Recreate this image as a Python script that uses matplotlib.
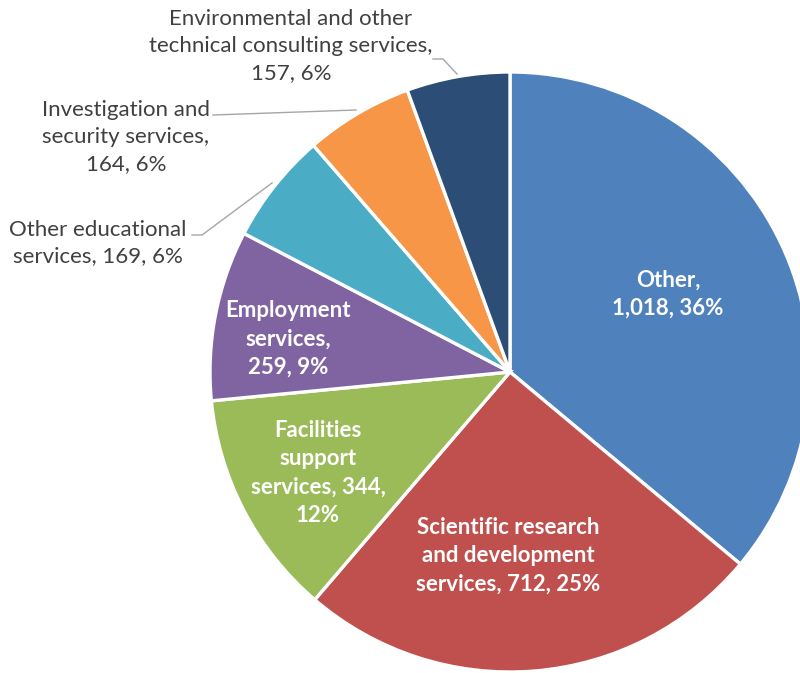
import matplotlib
matplotlib.use("Agg")
import matplotlib.pyplot as plt

plt.rcParams['font.family'] = ['Lato', 'DejaVu Sans']

# Services breakdown, clockwise from 12 o'clock
names = ["Other",
         "Scientific research\nand development\nservices",
         "Facilities\nsupport\nservices",
         "Employment\nservices",
         "Other educational\nservices",
         "Investigation and\nsecurity services",
         "Environmental and other\ntechnical consulting services"]
values = [1018, 712, 344, 259, 169, 164, 157]
colors = ["#4F81BD", "#C0504D", "#9BBB59", "#8064A2",
          "#4BACC6", "#F79646", "#2C4D75"]

total = sum(values)
pcts = [round(100 * v / total) for v in values]

W, H = 800, 673
FONTSIZE = 16
LINESPACING = 1.42

fig = plt.figure(figsize=(W / 100, H / 100), dpi=100)
ax = fig.add_axes([0, 0, 1, 1])

# pixel coords (top-left origin) -> data coords
def px(x, y):
    return x, H - y

ax.pie(values, colors=colors, startangle=90, counterclock=False,
       center=px(510, 372), radius=300, frame=True,
       wedgeprops=dict(edgecolor='white', linewidth=2.4))
ax.set_xlim(0, W)
ax.set_ylim(0, H)
ax.set_aspect('equal')
ax.axis('off')

def label(i, tail):
    # tail says where the "value, pct" part wraps
    return names[i] + tail.format(v=f"{values[i]:,}", p=f"{pcts[i]}%")

# labels inside the slices
inside = [(0, ",\n{v}, {p}", (668, 294)),
          (1, ", {v}, {p}", (508, 556)),
          (2, ", {v},\n{p}", (318, 473)),
          (3, ",\n{v}, {p}", (288, 339))]
for i, tail, pos in inside:
    ax.text(*px(*pos), label(i, tail), ha='center', va='center',
            color='white', fontsize=FONTSIZE, fontweight='bold',
            linespacing=LINESPACING)

# labels outside, with leader lines
grey = '#404040'
outside = [(4, ", {v}, {p}", (98, 243)),
           (5, ",\n{v}, {p}", (126, 137)),
           (6, ",\n{v}, {p}", (291, 46))]
for i, tail, pos in outside:
    ax.text(*px(*pos), label(i, tail), ha='center', va='center',
            color=grey, fontsize=FONTSIZE, linespacing=LINESPACING)

lc = '#A6A6A6'
for pts in ([(433, 59), (443, 59), (457, 74)],
            [(213, 115), (356, 110)],
            [(192, 235), (202, 235), (272, 183)]):
    xs = [p[0] for p in pts]
    ys = [H - p[1] for p in pts]
    ax.plot(xs, ys, color=lc, linewidth=1.0)

fig.savefig("out.png", dpi=100)
